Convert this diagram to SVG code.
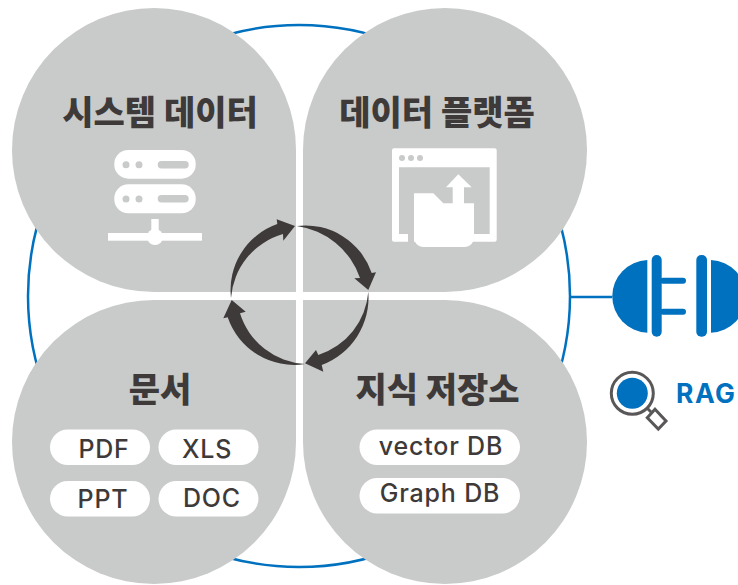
<svg xmlns="http://www.w3.org/2000/svg" width="738" height="585" viewBox="0 0 738 585">
<style>
.petal{fill:#c9caca}
.w{fill:#fff}
.g{fill:#c9caca}
.b{fill:#0071bf}
.title{font-family:"Noto Sans CJK KR","Noto Sans",sans-serif;font-weight:900;font-size:34px;fill:#3e3a39;text-anchor:middle}
.pill{fill:#fff}
.lab{font-family:"Inter","Noto Sans",sans-serif;font-weight:500;font-size:25px;letter-spacing:.8px;fill:#3e3a39;text-anchor:middle}
.arr{fill:#3e3a39}
.wire{fill:none;stroke:#0071bf;stroke-width:2.5}
</style>
<rect width="738" height="585" fill="#fff"/>
<g id="connectors">
<circle class="wire" cx="299" cy="296" r="271"/>
<path class="wire" d="M570 297H612"/>
</g>
<g id="system-data">
<path class="petal" d="M154 8A142 142 0 0 0 12 150A142 142 0 0 0 154 292H296V150A142 142 0 0 0 154 8Z"/>
<text class="title" x="160" y="125">시스템 데이터</text>
<rect class="w" x="114.300" y="150" width="81.400" height="28.700" rx="14"/>
<rect class="w" x="114.300" y="184.300" width="81.400" height="29" rx="14"/>
<circle class="g" cx="126" cy="164.700" r="3.500"/><circle class="g" cx="139" cy="164.700" r="3.500"/>
<rect class="g" x="157.700" y="161" width="31" height="7.500" rx="3.700"/>
<circle class="g" cx="126" cy="199" r="3.500"/><circle class="g" cx="139" cy="199" r="3.500"/>
<rect class="g" x="157.700" y="195" width="31" height="7.500" rx="3.700"/>
<rect class="w" x="151.300" y="219" width="7.400" height="16"/>
<rect class="w" x="108" y="233" width="94" height="7.700"/>
<circle class="w" cx="155" cy="237" r="8"/>
</g>
<g id="data-platform">
<path class="petal" d="M445 8A142 142 0 0 1 587 150A142 142 0 0 1 445 292H303V150A142 142 0 0 1 445 8Z"/>
<text class="title" x="437" y="125">데이터 플랫폼</text>
<path class="w" fill-rule="evenodd" d="M394 148.300H494.700a2 2 0 0 1 2 2V239.700a2 2 0 0 1-2 2H394a2 2 0 0 1-2-2V150.300a2 2 0 0 1 2-2ZM399 167.300V234H489.700V167.300Z"/>
<circle class="g" cx="402" cy="158" r="3"/><circle class="g" cx="411" cy="158" r="3"/><circle class="g" cx="420" cy="158" r="3"/>
<rect class="g" x="408" y="230" width="6" height="12"/>
<path class="w" d="M414 193.300H433.300L443.300 203.300H452.700V187.300H446L458.300 174.300L471.700 187.300H464V203.300H474V238a9 9 0 0 1-9 9H423a9 9 0 0 1-9-9Z"/>
</g>
<g id="documents">
<path class="petal" d="M154 584A142 142 0 0 1 12 442A142 142 0 0 1 154 300H296V442A142 142 0 0 1 154 584Z"/>
<text class="title" x="160" y="402">문서</text>
<rect class="pill" x="50" y="429.500" width="100" height="35.500" rx="17.700"/><text class="lab" x="104" y="458">PDF</text>
<rect class="pill" x="158.500" y="429.500" width="100" height="35.500" rx="17.700"/><text class="lab" x="207" y="458">XLS</text>
<rect class="pill" x="50" y="481" width="100" height="35.500" rx="17.700"/><text class="lab" x="103" y="508">PPT</text>
<rect class="pill" x="158.500" y="481" width="100" height="35.500" rx="17.700"/><text class="lab" x="212" y="507">DOC</text>
</g>
<g id="knowledge-store">
<path class="petal" d="M445 584A142 142 0 0 0 587 442A142 142 0 0 0 445 300H303V442A142 142 0 0 0 445 584Z"/>
<text class="title" x="437.500" y="402">지식 저장소</text>
<rect class="pill" x="359.500" y="429.500" width="160.500" height="35.500" rx="17.700"/><text class="lab" x="441" y="455">vector DB</text>
<rect class="pill" x="359.500" y="478" width="160.500" height="35.500" rx="17.700"/><text class="lab" x="440" y="502">Graph DB</text>
</g>
<g id="cycle">
<path class="arr" d="M231 298A70 70 0 0 1 277.300 224L276.700 219.300L295 226L283.300 240.700L283 234A72 72 0 0 0 231 298Z"/>
<path class="arr" d="M296.700 226A70 70 0 0 1 371.700 273L376 272.300L368.300 290L354.300 278.300L360 278A78 78 0 0 0 296.700 226Z"/>
<path class="arr" d="M368.300 291.700A72 72 0 0 1 321.700 365L323.300 371.700L305 363.300L316 350L318.300 355A72 72 0 0 0 368.300 291.700Z"/>
<path class="arr" d="M305 364A70 70 0 0 1 227.700 317.300L223.300 318.300L231.700 300L245.700 311.700L240 313.300A72 72 0 0 0 305 364Z"/>
</g>
<g id="plug">
<path class="b" d="M647.300 260A37 36.400 0 0 0 647.300 332.700Z"/>
<rect class="b" x="651.700" y="255" width="10" height="81.700" rx="5"/>
<rect class="b" x="660" y="277.700" width="26" height="6" rx="3"/>
<rect class="b" x="660" y="308.700" width="26" height="6" rx="3"/>
<rect class="b" x="696.300" y="255" width="10.700" height="81.700" rx="5"/>
<path class="b" d="M711 260A37 36.400 0 0 1 711 332.700Z"/>
</g>
<g id="rag">
<circle cx="632.300" cy="393.300" r="21" fill="#fff" stroke="#595757" stroke-width="3"/>
<circle class="b" cx="632.300" cy="393.300" r="15.500"/>
<path d="M647.500 408.500L651 412" stroke="#595757" stroke-width="3" fill="none"/>
<path d="M655 409.300L666 421L658.300 429L647.300 417.700Z" fill="#fff" stroke="#595757" stroke-width="3"/>
<text x="676" y="402.700" font-family="Inter,'Noto Sans',sans-serif" font-weight="700" font-size="26.500" letter-spacing="1.500" fill="#0071bf">RAG</text>
</g>
</svg>
